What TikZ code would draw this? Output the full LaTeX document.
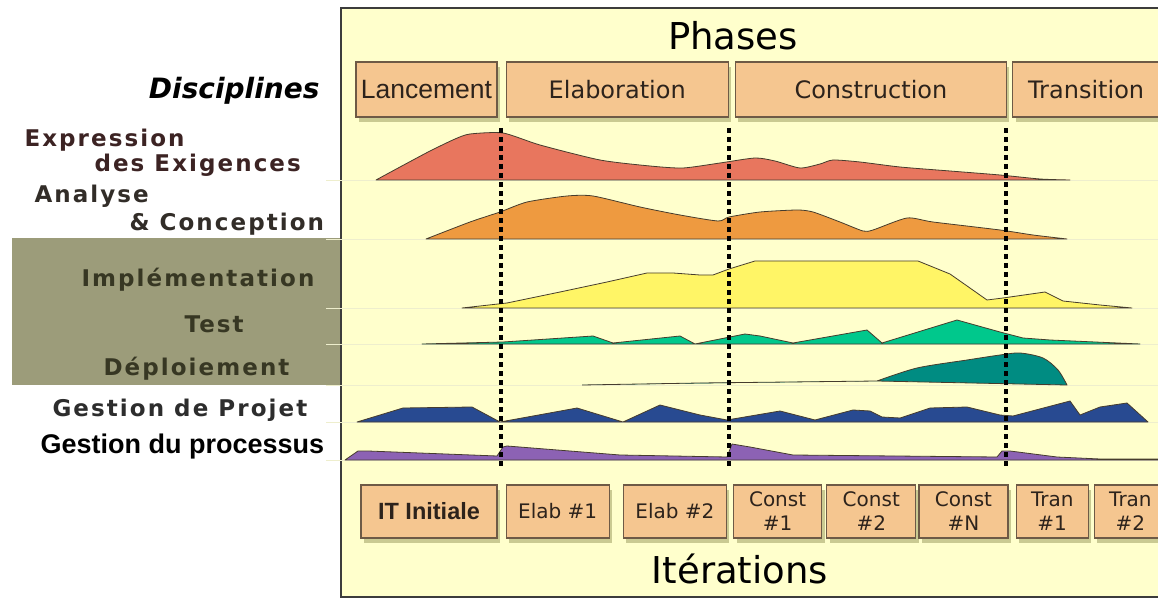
\documentclass[tikz,border=0pt]{standalone}
\usepackage{fontspec}
\setmainfont{DejaVu Sans}
\newfontfamily\discfont[LetterSpace=9]{DejaVu Sans Bold}
\newfontfamily\arialfont{Liberation Sans}
\usepackage{tikz}
\usetikzlibrary{
        positioning,
        shadows
    }
\definecolor{framefill}{RGB}{255,255,204}
\definecolor{framecol}{RGB}{60,60,60}
\definecolor{greyband}{RGB}{156,156,122}
\definecolor{boxfill}{RGB}{245,198,144}
\definecolor{boxedge}{RGB}{110,90,70}
\definecolor{boxtext}{RGB}{45,35,28}
\definecolor{shadowcol}{RGB}{150,150,90}
\definecolor{rowcol}{RGB}{238,238,205}
\definecolor{flowedge}{RGB}{70,60,45}
\definecolor{reqcol}{RGB}{232,118,94}
\definecolor{anacol}{RGB}{238,154,64}
\definecolor{impcol}{RGB}{255,245,102}
\definecolor{testcol}{RGB}{0,200,140}
\definecolor{depcol}{RGB}{0,140,130}
\definecolor{pmcol}{RGB}{40,74,145}
\definecolor{proccol}{RGB}{140,98,180}
\definecolor{reqtext}{RGB}{60,35,35}
\definecolor{anatext}{RGB}{50,45,40}
\definecolor{imptext}{RGB}{55,55,35}
\definecolor{pmtext}{RGB}{45,45,45}
\tikzset{x=1pt,y=-1pt}
\tikzset{
    phasebox/.style={draw=boxedge,fill=boxfill,line width=1.2pt,inner sep=0pt,
        minimum height=55pt,text=boxtext,
        drop shadow={shadow xshift=3pt,shadow yshift=-5pt,fill=shadowcol,opacity=0.5},
        font=\fontsize{24}{28}\selectfont},
    iterbox/.style={phasebox,minimum height=53pt,align=center,
        font=\fontsize{20}{24}\selectfont},
    disc/.style={anchor=base west,font=\discfont\fontsize{23}{26}\selectfont},
    flow/.style={draw=flowedge,line width=0.8pt,line join=round},
    phaseline/.style={line width=3.5pt,dash pattern=on 5pt off 4pt},
    rowline/.style={draw=rowcol,line width=0.8pt}
}

\begin{document}
\begin{tikzpicture}
                \useasboundingbox (0,0) rectangle (1158,601);
                % background
                \fill[greyband] (12,238) rectangle (341,385);
                \draw[fill=framefill,draw=framecol,line width=2pt] (341,8) rectangle (1163,597);
                \foreach \y in {180,239,308,344,385,422,460}
                    \draw[rowline] (326,\y) -- (1158,\y);
                % effort curves
                \filldraw[flow,fill=reqcol] plot[smooth,tension=0.4] coordinates {
                    (376,180) (400,167) (430,151) (455,139) (470,134) (503,133) (540,145)
                    (600,160) (650,166) (683,168) (720,163) (755,158) (775,161) (800,168)
                    (820,164) (833,160) (860,162) (900,167) (950,171) (1000,175) (1040,179)
                    (1070,180)} -- cycle;
                \filldraw[flow,fill=anacol] plot[smooth,tension=0.4] coordinates {
                    (426,239) (470,222) (500,212) (527,202) (567,196) (593,196) (640,207)
                    (680,215) (718,221) (729,217) (760,212) (797,210) (813,212) (840,222)
                    (863,231) (873,230) (907,218) (933,222) (1000,230) (1033,235) (1067,239)}
                    -- cycle;
                \filldraw[flow,fill=impcol] (462,308) -- (507,303) -- (560,292) -- (607,282)
                    -- (647,273) -- (673,273) -- (700,275) -- (713,275) -- (729,269) -- (755,261)
                    -- (918,261) -- (950,274) -- (987,300) -- (1003,298) -- (1045,292)
                    -- (1063,301) -- (1100,305) -- (1132,308) -- cycle;
                \filldraw[flow,fill=testcol] (422,344) -- (503,342) -- (593,336) -- (613,343)
                    -- (680,336) -- (695,344) -- (730,337) -- (745,334) -- (760,336) -- (793,343)
                    -- (867,330) -- (882,343) -- (957,320) -- (1000,332) -- (1023,338)
                    -- (1050,340) -- (1140,344) -- cycle;
                \filldraw[flow,fill=depcol] (582,385) -- (700,383) -- (877,381)
                    plot[smooth,tension=0.5] coordinates {(877,381) (917,368) (967,360)
                    (1000,355) (1020,353) (1043,358) (1058,370) (1067,385)} -- cycle;
                \filldraw[flow,fill=pmcol] (357,422) -- (403,408) -- (472,407) -- (500,422)
                    -- (577,408) -- (623,422) -- (660,405) -- (700,415) -- (727,420) -- (780,411)
                    -- (815,420) -- (853,410) -- (870,411) -- (882,417) -- (900,418) -- (930,408)
                    -- (967,407) -- (1000,415) -- (1013,416) -- (1070,401) -- (1080,415)
                    -- (1100,407) -- (1127,403) -- (1148,422) -- cycle;
                \filldraw[flow,fill=proccol] (345,460) -- (358,451) -- (368,451) -- (497,456)
                    -- (503,447) -- (507,446) -- (620,455) -- (727,457) -- (732,444) -- (750,447)
                    -- (793,455) -- (997,457) -- (1002,451) -- (1010,451) -- (1057,457)
                    -- (1100,459) -- (1158,459) -- (1158,460) -- cycle;
                % phase limits
                \foreach \x in {501,729,1006}
                    \draw[phaseline] (\x,128) -- (\x,468);
                % phases
                \node[anchor=base,font=\fontsize{37}{40}\selectfont] (phases) at (733,50) {Phases};
                \node[phasebox,minimum width=141pt,font=\arialfont\fontsize{26.5}{30}\selectfont]
                    (lanc) at (426.5,89.5) {Lancement};
                \node[phasebox,minimum width=222pt,right=8pt of lanc] (elab) {Elaboration};
                \node[phasebox,minimum width=271pt,right=6pt of elab] (cons) {Construction};
                \node[phasebox,minimum width=147pt,right=5pt of cons] (tran) {Transition};
                % iterations
                \node[iterbox,minimum width=136pt,font=\arialfont\bfseries\fontsize{23.5}{28}\selectfont]
                    (itinit) at (429,511.5) {IT Initiale};
                \node[iterbox,minimum width=103pt,right=8pt of itinit] (elab1) {Elab \#1};
                \node[iterbox,minimum width=103pt,right=13pt of elab1] (elab2) {Elab \#2};
                \node[iterbox,minimum width=88pt,right=6pt of elab2] (cons1) {Const\\\#1};
                \node[iterbox,minimum width=89pt,right=4pt of cons1] (cons2) {Const\\\#2};
                \node[iterbox,minimum width=89pt,right=2pt of cons2] (consn) {Const\\\#N};
                \node[iterbox,minimum width=72pt,right=7pt of consn] (tran1) {Tran\\\#1};
                \node[iterbox,minimum width=72pt,right=5pt of tran1] (tran2) {Tran\\\#2};
                \node[anchor=base,font=\fontsize{37}{40}\selectfont] (iters) at (740,583) {Itérations};
                % disciplines
                \node[anchor=base east,font=\bfseries\itshape\fontsize{28}{32}\selectfont]
                    (disc) at (323,99) {Disciplines};
                \node[disc,text=reqtext] (expr) at (21,147) {Expression};
                \node[disc,text=reqtext] (exig) at (91,172) {des Exigences};
                \node[disc,text=anatext] (ana) at (31,203) {Analyse};
                \node[disc,text=anatext] (conc) at (126,231) {\& Conception};
                \node[disc,text=imptext] (impl) at (78,287) {Implémentation};
                \node[disc,text=imptext] (test) at (181,332) {Test};
                \node[disc,text=imptext] (depl) at (100,375) {Déploiement};
                \node[disc,text=pmtext] (gproj) at (49,416) {Gestion de Projet};
                \node[anchor=base west,font=\arialfont\bfseries\fontsize{27}{30}\selectfont]
                    (gproc) at (37,453) {Gestion du processus};
\end{tikzpicture}
\end{document}
